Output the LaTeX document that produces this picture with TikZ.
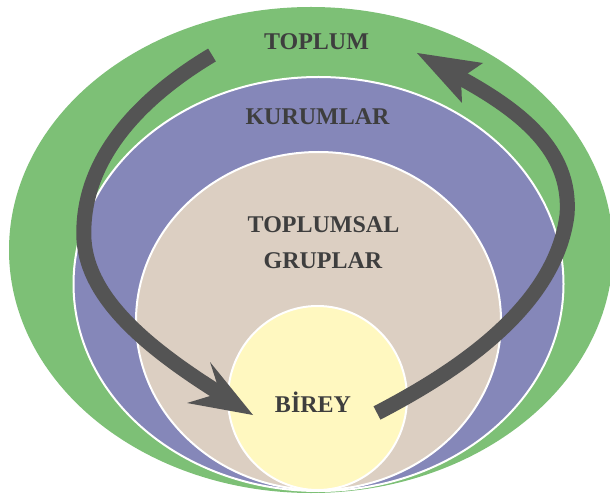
\documentclass[tikz,border=0pt]{standalone}
\usepackage{fontspec}
\setmainfont{Liberation Serif}
\definecolor{cgreen}{RGB}{125,192,118}
\definecolor{cpurple}{RGB}{133,135,185}
\definecolor{cbeige}{RGB}{220,207,194}
\definecolor{cyellow}{RGB}{255,248,192}
\definecolor{carrow}{RGB}{84,84,84}
\definecolor{ctext}{RGB}{62,62,62}
\tikzset{
  lbl/.style={anchor=base, inner sep=0pt, text=ctext, font=\fontsize{24}{28}\selectfont\bfseries},
  ring/.style={draw=white, line width=2pt},
  shaft/.style={draw=carrow, line width=15pt, line cap=butt},
  head/.style={fill=carrow}
}
\begin{document}
\begin{tikzpicture}[x=1pt,y=-1pt]
\useasboundingbox (0,0) rectangle (610,494);
% nested ellipses
\fill[cgreen] (311,250) ellipse [x radius=302, y radius=243];
\path[ring, fill=cpurple] (318.5,284) ellipse [x radius=245, y radius=207];
\path[ring, fill=cbeige] (318.5,321) ellipse [x radius=182.5, y radius=169];
\path[ring, fill=cyellow] (317.5,398) ellipse [x radius=89.5, y radius=92];
% labels
\node[lbl] (toplum) at (316.5,50) {TOPLUM};
\node[lbl] (kurum) at (317.5,125) {KURUMLAR};
\node[lbl] (tsal) at (323.5,233) {TOPLUMSAL};
\node[lbl] (grup) at (323,269) {GRUPLAR};
\node[lbl] (birey) at (313,412) {BİREY};
% left arrow: TOPLUM -> BIREY
\coordinate (lstart) at (212,55);
\coordinate (lmid) at (84,240);
\coordinate (lend) at (224,396);
\coordinate (ltip) at (253,415);
\path[shaft] (lstart) .. controls (140,98) and (80,160) .. (lmid)
  .. controls (88,300) and (150,350) .. (lend);
\fill[head] (ltip) -- (210,362) -- (220,393) -- (187,403) -- cycle;
% right arrow: BIREY -> TOPLUM
\coordinate (rstart) at (377,413);
\coordinate (rmid) at (567,215);
\coordinate (rend) at (455,75);
\coordinate (rtip) at (417,53);
\path[shaft] (rstart) .. controls (450,375) and (555,310) .. (rmid)
  .. controls (572,150) and (520,110) .. (rend);
\fill[head] (rtip) -- (483,63) -- (461,78) -- (462,103) -- cycle;
\end{tikzpicture}
\end{document}
